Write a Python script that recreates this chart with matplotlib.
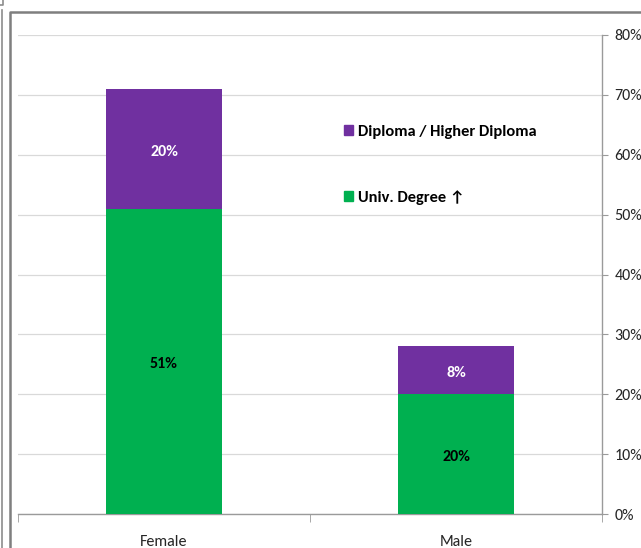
import matplotlib
matplotlib.use("Agg")
import matplotlib.pyplot as plt
import matplotlib.patches as patches
from matplotlib.lines import Line2D
from matplotlib.ticker import FixedLocator, FuncFormatter

plt.rcParams['font.family'] = ['Carlito', 'DejaVu Sans']

# Data (shares of respondents, %)
categories = ["Female", "Male"]
univ_degree = [51, 20]
diploma = [20, 8]
series_labels = ["Diploma / Higher Diploma", "Univ. Degree \u2191"]

GREEN = '#00B050'
PURPLE = '#7030A0'
GRID = '#D9D9D9'
AXIS = '#9A9A9A'

fig = plt.figure(figsize=(6.41, 5.48), dpi=100)
ax = fig.add_axes([18 / 641, 34 / 548, 584 / 641, 479 / 548])

x = range(len(categories))
bars_g = ax.bar(x, univ_degree, width=0.4, color=GREEN, zorder=3)
bars_p = ax.bar(x, diploma, width=0.4, bottom=univ_degree, color=PURPLE, zorder=3)


def label_segments(bars, values, color):
    # value label centred in each stacked segment
    for bar, val in zip(bars, values):
        ax.annotate(f'{val}%',
                    (bar.get_x() + bar.get_width() / 2, bar.get_y() + bar.get_height() / 2),
                    xytext=(0, -2), textcoords='offset points',
                    ha='center', va='center', fontsize=11.5,
                    fontweight='bold', color=color, zorder=4)


label_segments(bars_g, univ_degree, 'black')
label_segments(bars_p, diploma, 'white')

ax.set_xlim(-0.5, 1.5)
ax.set_ylim(0, 80)

# percentage axis on the right
ax.yaxis.tick_right()
ax.yaxis.set_major_locator(FixedLocator(range(0, 81, 10)))
ax.yaxis.set_major_formatter(FuncFormatter(lambda v, p: f'{v:.0f}%'))
ax.tick_params(axis='y', which='major', length=4, color=AXIS, pad=5,
               labelsize=11.5, labelcolor='#262626', direction='out')
ax.grid(True, axis='y', color=GRID, linewidth=0.9, zorder=0)

# category ticks sit between the groups
ax.set_xticks(list(x))
ax.set_xticklabels(categories)
ax.set_xticks([-0.5, 0.5, 1.5], minor=True)
ax.tick_params(axis='x', which='major', length=0, pad=15, labelsize=11.5,
               labelcolor='#262626')
ax.tick_params(axis='x', which='minor', length=6, color=AXIS, direction='out')

for side in ('top', 'left'):
    ax.spines[side].set_visible(False)
for side in ('bottom', 'right'):
    ax.spines[side].set_color(AXIS)
    ax.spines[side].set_linewidth(1.0)

handles = [patches.Patch(color=PURPLE), patches.Patch(color=GREEN)]
leg = ax.legend(handles, series_labels, loc='upper left',
                bbox_to_anchor=(344 / 641, 1 - 125 / 548),
                bbox_transform=fig.transFigure, frameon=False,
                handlelength=0.55, handleheight=0.55, handletextpad=0.3,
                labelspacing=3.1, borderaxespad=0, borderpad=0,
                prop={'size': 11.8, 'weight': 'bold'})

# chart frame lines
fig.add_artist(Line2D([9.5 / 641, 9.5 / 641, 1], [0, 1 - 11.5 / 548, 1 - 11.5 / 548],
                      transform=fig.transFigure, color='#7F7F7F', linewidth=1.8))
fig.add_artist(Line2D([2 / 641, 2 / 641], [0, 1 - 10 / 548],
                      transform=fig.transFigure, color='#8C8C8C', linewidth=1.2))
fig.add_artist(Line2D([0, 3 / 641, 3 / 641], [1 - 5 / 548, 1 - 5 / 548, 1],
                      transform=fig.transFigure, color='#8C8C8C', linewidth=1.2))

fig.savefig('out.png', dpi=100)
